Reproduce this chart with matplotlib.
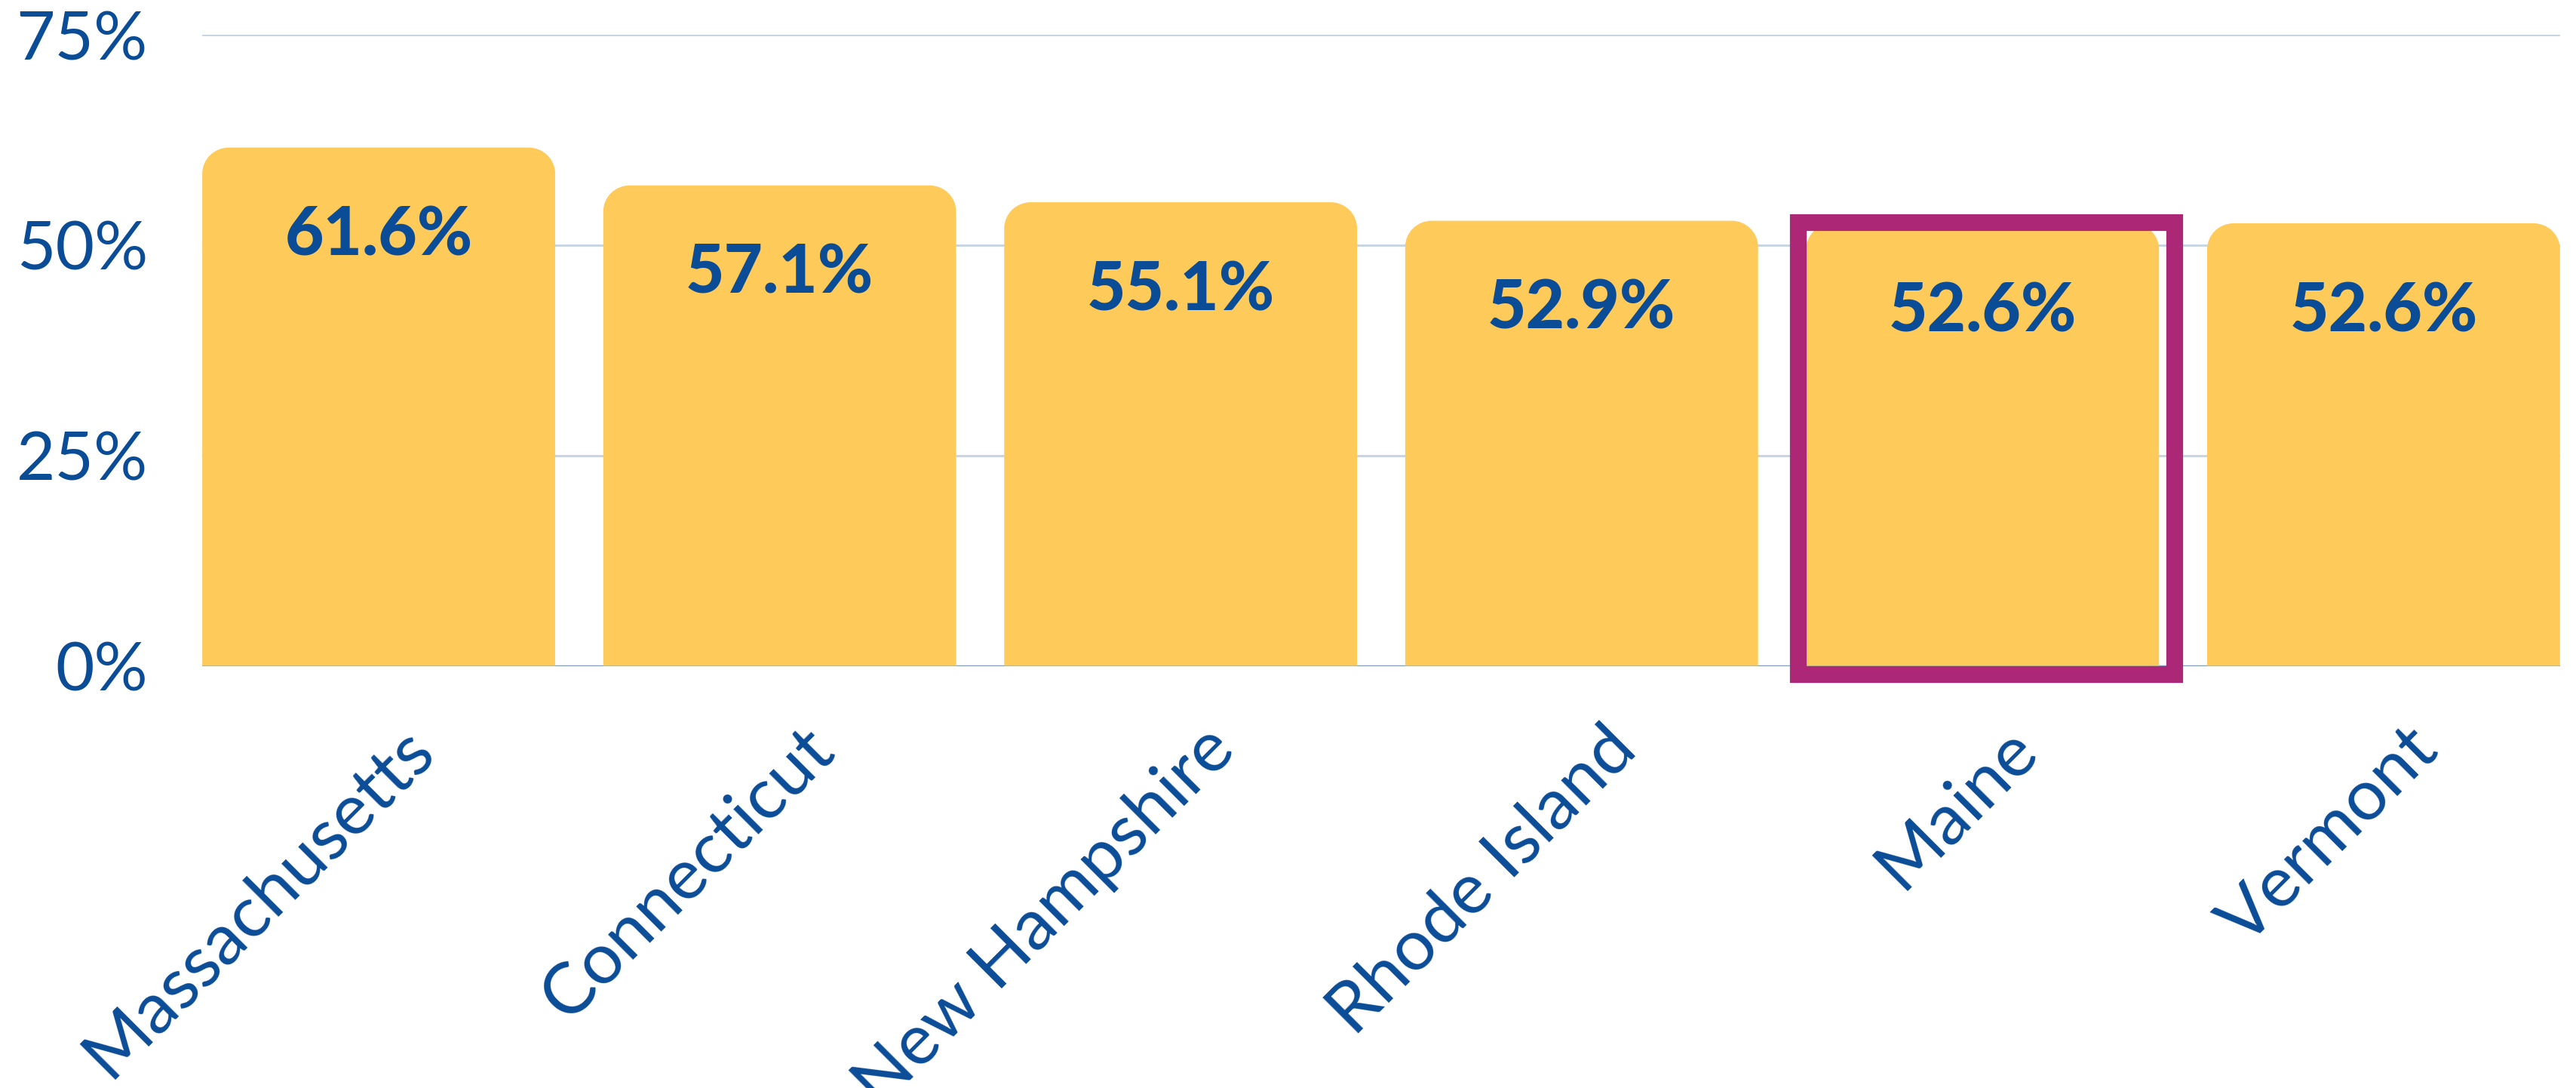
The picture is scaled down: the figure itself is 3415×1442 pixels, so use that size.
import numpy as np
import matplotlib.pyplot as plt
from matplotlib.path import Path
from matplotlib.patches import PathPatch, Rectangle
import matplotlib.transforms as mtransforms

states = ['Massachusetts', 'Connecticut', 'New Hampshire', 'Rhode Island', 'Maine', 'Vermont']
values = [61.6, 57.1, 55.1, 52.9, 52.6, 52.6]
yticks = [0, 25, 50, 75]
highlight = 'Maine'

blue = '#0B4C97'
yellow = '#FECA5A'
magenta = '#AC2775'

plt.rcParams['font.family'] = ['Lato', 'DejaVu Sans']

fig = plt.figure(figsize=(17.08, 7.21), dpi=200)
ax = fig.add_axes([0.0785, 0.388, 0.915, 0.580])

x = np.arange(len(states))
bars = ax.bar(x, values, width=0.88, color=yellow, zorder=2)

ax.set_xlim(-0.44, len(states) - 1 + 0.44)
ax.set_ylim(0, 75)

# swap the square bars for ones with rounded top corners
rx, ry = 0.066, 3.1
k = 0.5523
for b in bars:
    x0 = b.get_x()
    x1 = x0 + b.get_width()
    h = b.get_height()
    verts = [(x0, 0), (x0, h - ry),
             (x0, h - ry + k * ry), (x0 + rx - k * rx, h), (x0 + rx, h),
             (x1 - rx, h),
             (x1 - rx + k * rx, h), (x1, h - ry + k * ry), (x1, h - ry),
             (x1, 0), (x0, 0)]
    codes = [Path.MOVETO, Path.LINETO,
             Path.CURVE4, Path.CURVE4, Path.CURVE4,
             Path.LINETO,
             Path.CURVE4, Path.CURVE4, Path.CURVE4,
             Path.LINETO, Path.CLOSEPOLY]
    b.set_visible(False)
    ax.add_patch(PathPatch(Path(verts, codes), facecolor=yellow, edgecolor='none', zorder=2))

# value labels inside bars
for xi, v in zip(x, values):
    ax.text(xi, v - 10.5, f'{v:.1f}%', ha='center', va='center', color=blue,
            fontsize=32, fontweight='black', zorder=4)

# highlight box
i = states.index(highlight)
b = bars[i]
ax.add_patch(Rectangle((b.get_x() - 0.02, -1.0), b.get_width() + 0.06, values[i] + 1.1,
                       fill=False, edgecolor=magenta, linewidth=8, joinstyle='miter',
                       clip_on=False, zorder=5))

ax.set_yticks(yticks)
ax.set_yticklabels([f'{t}%' for t in yticks])
ax.yaxis.grid(True, color='#C8D5E5', linewidth=1.1, zorder=0)
ax.axhline(0, color='#7F9CC0', linewidth=1.2, zorder=1)
ax.set_axisbelow(True)

ax.set_xticks(x)
ax.set_xticklabels(states, rotation=45, ha='right', rotation_mode='anchor')
ax.tick_params(axis='both', length=0, colors=blue)
ax.tick_params(axis='y', pad=26, labelsize=32)
ax.tick_params(axis='x', pad=24, labelsize=34)
off = mtransforms.ScaledTranslation(0.14, 0, fig.dpi_scale_trans)
for lab in ax.get_xticklabels():
    lab.set_transform(lab.get_transform() + off)

for s in ax.spines.values():
    s.set_visible(False)

fig.savefig('out.png', dpi=200, facecolor='white')
